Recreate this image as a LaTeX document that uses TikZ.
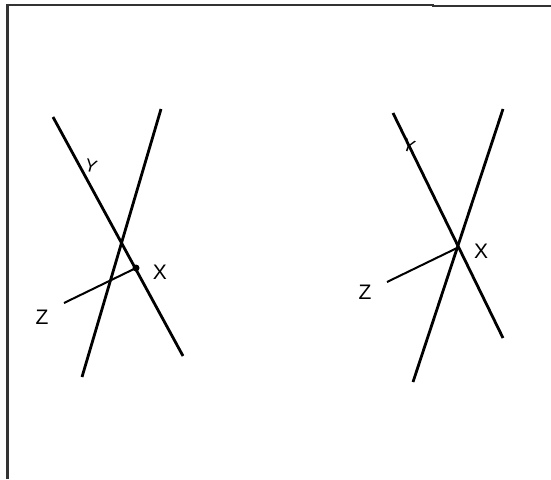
\documentclass[tikz,border=0pt]{standalone}
\usepackage{fontspec}
\setmainfont{Liberation Sans}
\usetikzlibrary{positioning}
\definecolor{frame}{HTML}{333333}

\begin{document}
\begin{tikzpicture}[x=1pt,y=-1pt,
  ray/.style={line width=2.8pt},
  arm/.style={line width=2pt},
  lbl/.style={font=\fontsize{21}{24}\selectfont,inner sep=0pt},
  ylbl/.style={font=\fontsize{18}{20}\selectfont,inner sep=0pt}]
\useasboundingbox (0,0) rectangle (551,479);
\draw[frame,line width=2.2pt] (7.5,479) -- (7.5,5) -- (433,5) -- (433,6) -- (551,6);
% left figure: X off the crossing
\coordinate (a1) at (53,117);
\coordinate (a2) at (183,356);
\coordinate (b1) at (161,109);
\coordinate (b2) at (82,377);
\coordinate (zl) at (64,303);
\coordinate (xl) at (136,268);
\draw[ray] (a1) -- (a2);
\draw[ray] (b1) -- (b2);
\draw[arm] (zl) -- (xl);
\fill (xl) circle (3.5);
\node[lbl] (Xl) at (160,272) {X};
\node[lbl] (Zl) at (42,317) {Z};
\node[ylbl,rotate=-15] (Yl) at (91,166) {Y};
% right figure: X on the crossing
\coordinate (c1) at (393,113);
\coordinate (c2) at (503,338);
\coordinate (d1) at (503,109);
\coordinate (d2) at (413,382);
\coordinate (zr) at (387,282);
\coordinate (xr) at (457,248);
\draw[ray] (c1) -- (c2);
\draw[ray] (d1) -- (d2);
\draw[arm] (zr) -- (xr);
\node[lbl] (Xr) at (481,251) {X};
\node[lbl] (Zr) at (365,292) {Z};
\node[ylbl,rotate=-20] (Yr) at (409,146) {Y};
\end{tikzpicture}
\end{document}
